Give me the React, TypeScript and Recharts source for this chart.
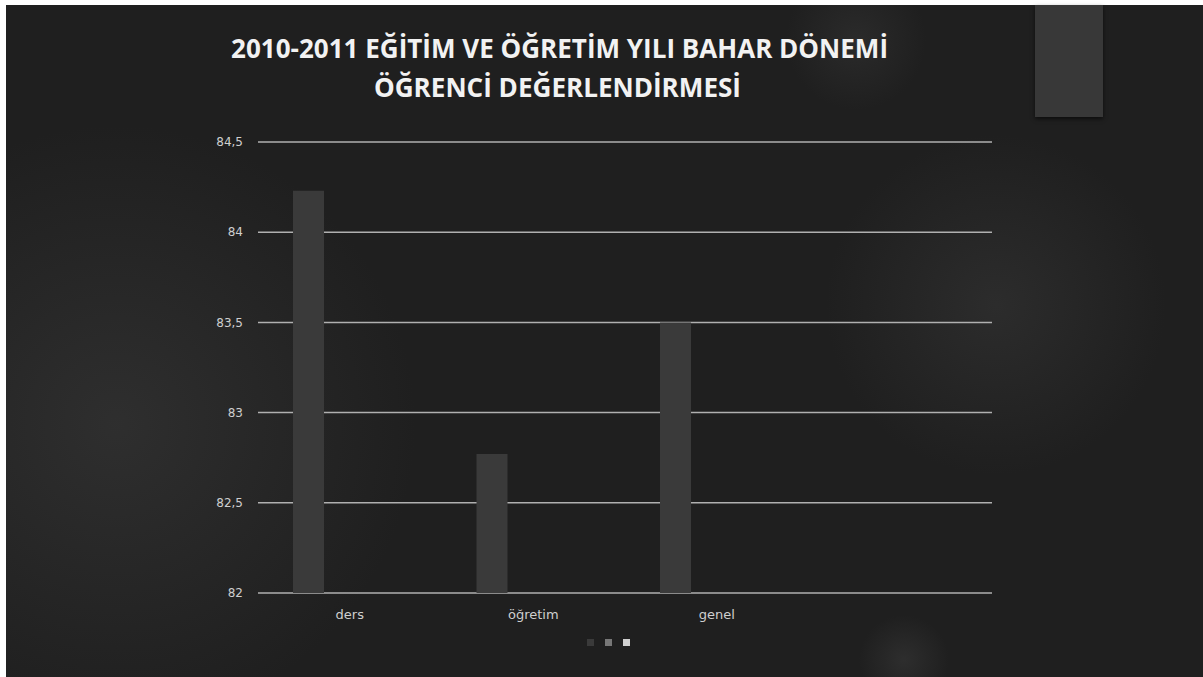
import { BarChart, Bar, XAxis, YAxis, CartesianGrid, Legend } from "recharts";

const CATEGORIES = ["ders", "öğretim", "genel", ""];
const SERIES_1 = [84.23, 82.77, 83.5, null];
const SERIES_2 = [null, null, null, null];
const SERIES_3 = [null, null, null, null];
const Y_TICKS = [82, 82.5, 83, 83.5, 84, 84.5];

const TITLE_LINE_1 = "2010-2011 EĞİTİM VE ÖĞRETİM YILI BAHAR DÖNEMİ";
const TITLE_LINE_2 = "ÖĞRENCİ DEĞERLENDİRMESİ";

const SERIES = [
  { key: "s1", name: "Seri 1", values: SERIES_1, color: "#3a3a3a" },
  { key: "s2", name: "Seri 2", values: SERIES_2, color: "#777777" },
  { key: "s3", name: "Seri 3", values: SERIES_3, color: "#d0d0d0" },
];

const data = CATEGORIES.map((name, i) => {
  const row: Record<string, string | number | null> = { name };
  SERIES.forEach((s) => {
    row[s.key] = s.values[i];
  });
  return row;
});

const fmt = (v: number) => String(v).replace(".", ",");

const LegendSquares = (props: any) => {
  const payload = props.payload || [];
  return (
    <div style={{ display: "flex", justifyContent: "center", paddingLeft: 26, gap: 11 }}>
      {payload.map((p: any) => (
        <span
          key={p.value}
          style={{ width: 7, height: 7, background: p.color, display: "inline-block", filter: "blur(0.6px)" }}
        />
      ))}
    </div>
  );
};

export default function App() {
  return (
    <div style={{ position: "absolute", left: 0, top: 0, width: 1203, height: 677, background: "#fff" }}>
      <div
        style={{
          position: "absolute",
          left: 6,
          top: 5,
          width: 1197,
          height: 672,
          background: [
            "radial-gradient(circle at 110px 420px, rgba(62,62,62,0.5) 0px, rgba(31,31,31,0) 300px)",
            "radial-gradient(circle at 990px 300px, rgba(60,60,60,0.45) 0px, rgba(31,31,31,0) 170px)",
            "radial-gradient(circle at 850px 35px, rgba(60,60,60,0.4) 0px, rgba(31,31,31,0) 70px)",
            "radial-gradient(circle at 898px 655px, rgba(60,60,60,0.5) 0px, rgba(31,31,31,0) 45px)",
            "#1f1f1f",
          ].join(","),
        }}
      />
      <div
        style={{
          position: "absolute",
          left: 1035,
          top: 5,
          width: 68,
          height: 112,
          background: "#383838",
          boxShadow: "0 2px 4px rgba(0,0,0,0.6)",
        }}
      />
      <svg width={1203} height={110} style={{ position: "absolute", left: 0, top: 0 }}>
        <g fontFamily="'Open Sans', sans-serif" fontWeight="bold" fontSize={26} fill="#f2f2f2">
          <text x={231} y={58} textLength={657} lengthAdjust="spacingAndGlyphs">
            {TITLE_LINE_1}
          </text>
          <text x={374} y={97} textLength={367} lengthAdjust="spacingAndGlyphs">
            {TITLE_LINE_2}
          </text>
        </g>
      </svg>
      <div style={{ position: "absolute", left: 0, top: 0 }}>
        <BarChart
          width={1203}
          height={677}
          data={data}
          margin={{ top: 142, right: 211, bottom: 18, left: 198 }}
          barSize={31}
          barGap={10}
        >
          <CartesianGrid vertical={false} stroke="#b0b0b0" strokeWidth={1.5} />
          <XAxis
            dataKey="name"
            axisLine={false}
            tickLine={false}
            tickSize={0}
            tickMargin={17}
            height={46}
            interval={0}
            tick={{ fill: "#cfcfcf", fontSize: 13, fontFamily: "'DejaVu Sans', sans-serif" }}
          />
          <YAxis
            domain={[82, 84.5]}
            ticks={Y_TICKS}
            width={60}
            axisLine={false}
            tickLine={false}
            tickSize={0}
            tickMargin={15}
            tickFormatter={fmt}
            tick={{ fill: "#cfcfcf", fontSize: 12, fontFamily: "'DejaVu Sans', sans-serif" }}
          />
          <Legend verticalAlign="bottom" height={20} content={LegendSquares} />
          {SERIES.map((s) => (
            <Bar key={s.key} dataKey={s.key} name={s.name} fill={s.color} isAnimationActive={false} />
          ))}
        </BarChart>
      </div>
    </div>
  );
}
